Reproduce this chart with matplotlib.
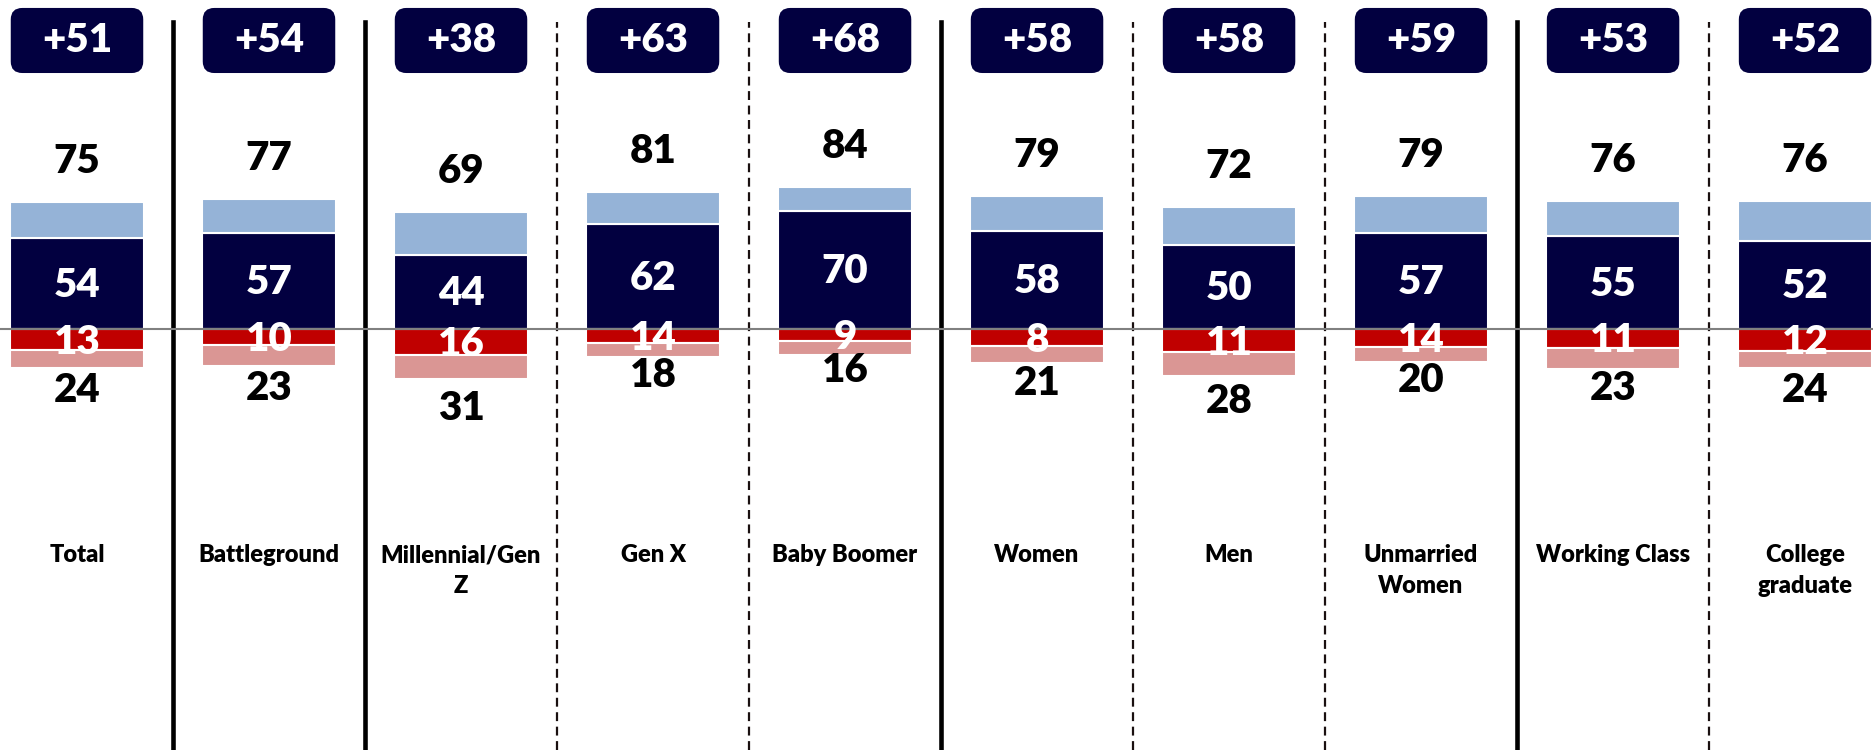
import numpy as np
import matplotlib
matplotlib.use('Agg')
import matplotlib.pyplot as plt
from matplotlib.patches import FancyBboxPatch

plt.rcParams['font.family'] = ['Lato', 'DejaVu Sans']

# Survey groups and values
groups = ['Total', 'Battleground', 'Millennial/Gen\nZ', 'Gen X', 'Baby Boomer',
          'Women', 'Men', 'Unmarried\nWomen', 'Working Class', 'College\ngraduate']
strong_pos = np.array([54, 57, 44, 62, 70, 58, 50, 57, 55, 52])
total_pos = np.array([75, 77, 69, 81, 84, 79, 72, 79, 76, 76])
strong_neg = np.array([13, 10, 16, 14, 9, 8, 11, 14, 11, 12])
total_neg = np.array([24, 23, 31, 18, 16, 21, 28, 20, 23, 24])
net = [51, 54, 38, 63, 68, 58, 58, 59, 53, 52]
# the negative segments as actually drawn in the source (they don't quite match the labels)
drawn_strong_neg = np.array([12.5, 9.5, 15.5, 8.5, 7, 10, 13.5, 10.5, 11, 13])
drawn_total_neg = np.array([23, 22, 29.5, 16.5, 15.5, 20, 28, 19.5, 23.5, 23])
# separator style after each group: True = solid, False = dashed
solid_sep = [True, True, False, False, True, False, False, True, False]

NAVY = '#020040'
LIGHT_BLUE = '#95B3D7'
RED = '#C00000'
PINK = '#DA9694'

fig = plt.figure(figsize=(18.74, 7.5), dpi=100)
ax = fig.add_axes([0, 0, 1, 1])
x = np.arange(len(groups))
w = 0.70

ax.set_xlim(-0.401, 9.359)
ax.set_ylim(-249, 194.7)
ax.axis('off')

ax.bar(x, strong_pos, w, color=NAVY, edgecolor='white', linewidth=1.5, zorder=2)
ax.bar(x, total_pos - strong_pos, w, bottom=strong_pos, color=LIGHT_BLUE,
       edgecolor='white', linewidth=1.5, zorder=2)
ax.bar(x, -drawn_strong_neg, w, color=RED, edgecolor='white', linewidth=1.5, zorder=2)
ax.bar(x, -(drawn_total_neg - drawn_strong_neg), w, bottom=-drawn_strong_neg, color=PINK,
       edgecolor='white', linewidth=1.5, zorder=2)

ax.axhline(0, color='#808080', linewidth=1.5, zorder=3)

# group separators
for i, solid in enumerate(solid_sep):
    if solid:
        ax.axvline(i + 0.5, ymin=0, ymax=0.971, color='black', linewidth=3.3, zorder=1)
    else:
        ax.axvline(i + 0.5, ymin=0, ymax=0.971, color='#1a1010', linewidth=1.6,
                   linestyle=(0, (4, 2.5)), zorder=1)

# px -> data aspect for the rounded boxes
aspect = (443.7 / 750) / (9.76 / 1874)

num_kw = dict(ha='center', va='center', fontsize=29, fontweight='heavy', zorder=4)
for i in range(len(groups)):
    ax.text(x[i], total_pos[i] + 24, str(total_pos[i]), color='black', **num_kw)
    ax.text(x[i], strong_pos[i] / 2 - 1, str(strong_pos[i]), color='white', **num_kw)
    ax.text(x[i], -(drawn_strong_neg[i] / 2 + 1.5), str(strong_neg[i]), color='white', **num_kw)
    ax.text(x[i], -1.52 * total_neg[i], str(total_neg[i]), color='black', **num_kw)

    box = FancyBboxPatch((x[i] - 0.345, 151.5), 0.69, 38.5,
                         boxstyle='round,pad=0,rounding_size=0.06',
                         mutation_aspect=aspect, facecolor=NAVY, edgecolor='none', zorder=4)
    ax.add_patch(box)
    ax.text(x[i], 170.8, '+{}'.format(net[i]), ha='center', va='center',
            fontsize=29, fontweight='heavy', color='white', zorder=5)

    ax.text(x[i], 0.274, groups[i], transform=ax.get_xaxis_transform(),
            ha='center', va='top', fontsize=17, fontweight='heavy', color='black',
            linespacing=1.47)

fig.savefig('out.png', dpi=100)
